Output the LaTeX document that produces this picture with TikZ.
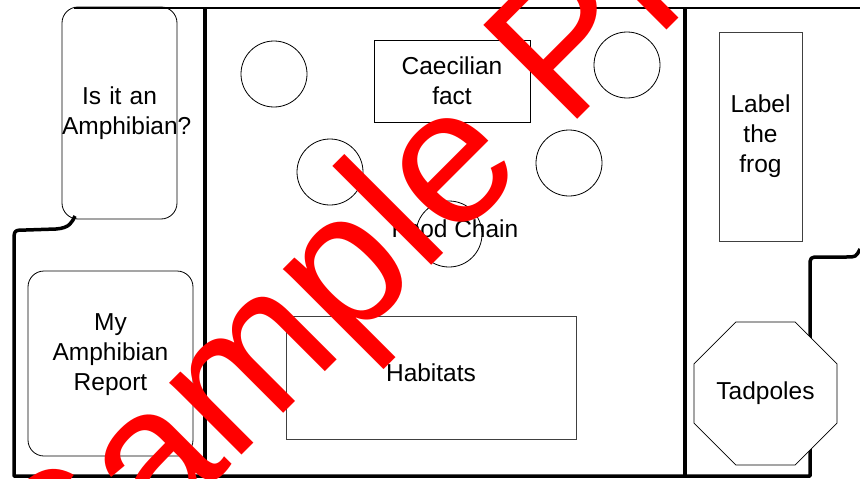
\documentclass[tikz,border=0pt]{standalone}
\usepackage{fontspec}
\setmainfont{Liberation Sans}
\usetikzlibrary{shapes.geometric}

\begin{document}
\begin{tikzpicture}[x=1pt,y=-1pt,
    every node/.style={font=\fontsize{24.5}{30}\selectfont, align=center, inner sep=0pt},
    border/.style={line width=3.5pt, line join=round},
    box/.style={draw, line width=0.8pt},
    roundbox/.style={box, rounded corners=16pt},
    spot/.style={draw, line width=0.8pt, circle, minimum size=66pt}]
  \useasboundingbox (0,0) rectangle (860,479);
  % folder outline
  \draw[border] (860,249) .. controls (856,257) .. (846,257) -- (820,257)
     .. controls (810,257) .. (810,267) -- (810,476) -- (14,476) -- (14,242)
     .. controls (14,230) .. (26,230) -- (56,229) .. controls (70,228) and (72,222) .. (75,216);
  \draw[line width=2.5pt] (74,8) -- (860,8);
  \draw[border] (205,8) -- (205,477);
  \draw[border] (685,8) -- (685,477);
  % left flap
  \node[roundbox, text width=115pt, minimum height=212pt] (amphibian) at (119.5,113) {Is it an\\Amphibian?};
  \node[roundbox, minimum width=165pt, minimum height=185pt] (report) at (110.5,363.5) {};
  \node (report text) at (110.5,355) {My\\Amphibian\\Report};
  % middle
  \node[spot] (c1) at (274,74) {};
  \node[spot] (c2) at (627,65) {};
  \node[spot] (c3) at (330,172) {};
  \node[spot] (c4) at (569,163) {};
  \node[spot] (c5) at (449,234) {};
  \node[box, minimum width=156pt, minimum height=82pt] (caecilian) at (452,81) {Caecilian\\fact};
  \node (food) at (455,229) {Food Chain};
  \node[box, draw=black!75, minimum width=290pt, minimum height=123pt] (habitats) at (431,377.5) {};
  \node (habitats text) at (431,373) {Habitats};
  % right flap
  \node[box, draw=black!75, minimum width=83pt, minimum height=209pt] (frog) at (760.5,136.5) {Label\\the\\frog};
  \node[box, fill=white, regular polygon, regular polygon sides=8, minimum size=154.8pt] (tadpoles) at (765.5,393.5) {Tadpoles};
  % stamp
  \begin{scope}
    \clip (0,0) rectangle (860,479);
    \node[text=red, font=\fontsize{193}{193}\selectfont, rotate=45, anchor=base west] (stamp) at (65.5,631.5) {Sample Preview};
  \end{scope}
\end{tikzpicture}
\end{document}
